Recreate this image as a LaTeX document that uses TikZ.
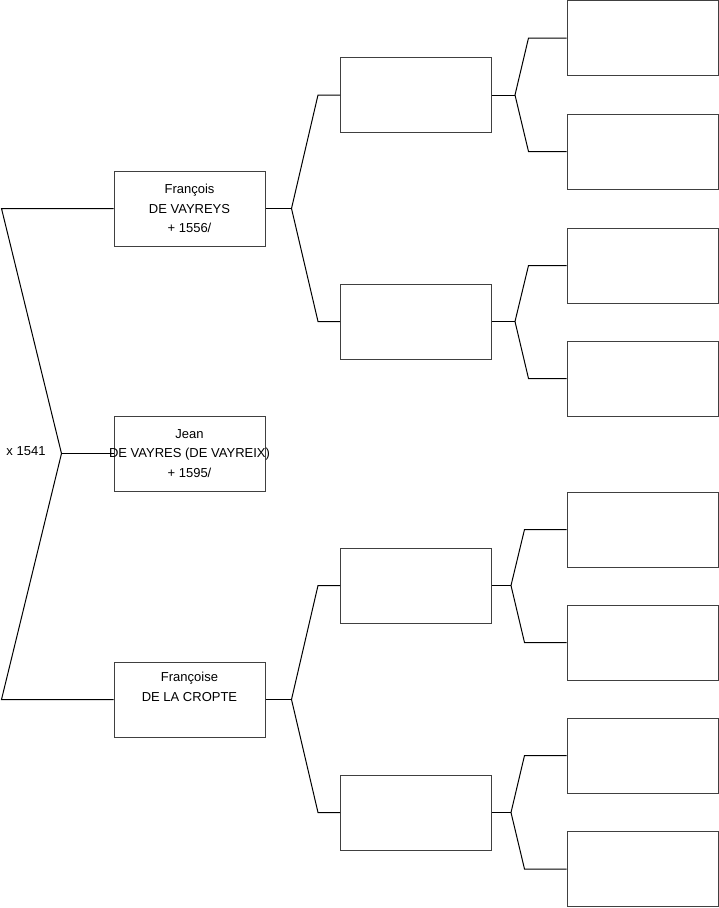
\documentclass[tikz,border=0pt]{standalone}
\usepackage{fontspec}
\setmainfont{Liberation Sans}
\usetikzlibrary{positioning,calc}
\tikzset{
  person/.style={draw=black!75, fill=white, line width=1pt,
    minimum width=151pt, minimum height=75pt, inner sep=0pt,
    align=center, font=\fontsize{13}{19.5}\selectfont},
  link/.style={draw=black, line width=1pt},
  lbl/.style={font=\fontsize{13}{19.5}\selectfont}
}

\begin{document}
\begin{tikzpicture}[x=1pt, y=-1pt]
  \useasboundingbox (0,0) rectangle (719,908);

  % generation 1 and 2
  \node[person] (s1) at (189.5,453.5)
    {Jean\\\makebox[0pt]{DE VAYRES (DE VAYREIX)}\\+ 1595/};
  \node[person] (s2) at (189.5,208.5) {François\\DE VAYREYS\\+ 1556/};
  \node[person] (s3) at (189.5,699.5) {Françoise\\DE LA CROPTE\\\strut};

  % generation 3
  \node[person] (s4) at (416,95) {};
  \node[person] (s5) at (416,321.5) {};
  \node[person] (s6) at (416,585.5) {};
  \node[person] (s7) at (416,812.5) {};

  % generation 4
  \node[person] (s8)  at (642.5,38) {};
  \node[person] (s9)  at (642.5,151.5) {};
  \node[person] (s10) at (642.5,265.5) {};
  \node[person] (s11) at (642.5,378.5) {};
  \node[person] (s12) at (642.5,529.5) {};
  \node[person] (s13) at (642.5,642.5) {};
  \node[person] (s14) at (642.5,755.5) {};
  \node[person] (s15) at (642.5,869) {};

  % parents of Jean
  \coordinate (v1) at ($(s1.west)+(-52,0)$);
  \node[lbl] (wed) at (26,451) {x 1541};
  \draw[link] (s2.west) -- ++(-112,0) -- (v1) -- ($(s3.west)+(-112,0)$) -- (s3.west);
  \draw[link] (v1) -- (s1.west);

  % parents of generation 2
  \coordinate (v2) at ($(s2.east)+(26,0)$);
  \coordinate (v3) at ($(s3.east)+(26,0)$);
  \draw[link] (s2.east) -- (v2);
  \draw[link] (s4.west) -- ++(-22,0) -- (v2) -- ($(s5.west)+(-22,0)$) -- (s5.west);
  \draw[link] (s3.east) -- (v3);
  \draw[link] (s6.west) -- ++(-22,0) -- (v3) -- ($(s7.west)+(-22,0)$) -- (s7.west);

  % parents of generation 3
  \coordinate (v4) at ($(s4.east)+(23,0)$);
  \coordinate (v5) at ($(s5.east)+(23,0)$);
  \coordinate (v6) at ($(s6.east)+(19,0)$);
  \coordinate (v7) at ($(s7.east)+(19,0)$);
  \draw[link] (s4.east) -- (v4);
  \draw[link] (s8.west) -- ++(-38,0) -- (v4) -- ($(s9.west)+(-38,0)$) -- (s9.west);
  \draw[link] (s5.east) -- (v5);
  \draw[link] (s10.west) -- ++(-38,0) -- (v5) -- ($(s11.west)+(-38,0)$) -- (s11.west);
  \draw[link] (s6.east) -- (v6);
  \draw[link] (s12.west) -- ++(-42,0) -- (v6) -- ($(s13.west)+(-42,0)$) -- (s13.west);
  \draw[link] (s7.east) -- (v7);
  \draw[link] (s14.west) -- ++(-42,0) -- (v7) -- ($(s15.west)+(-42,0)$) -- (s15.west);
\end{tikzpicture}
\end{document}
